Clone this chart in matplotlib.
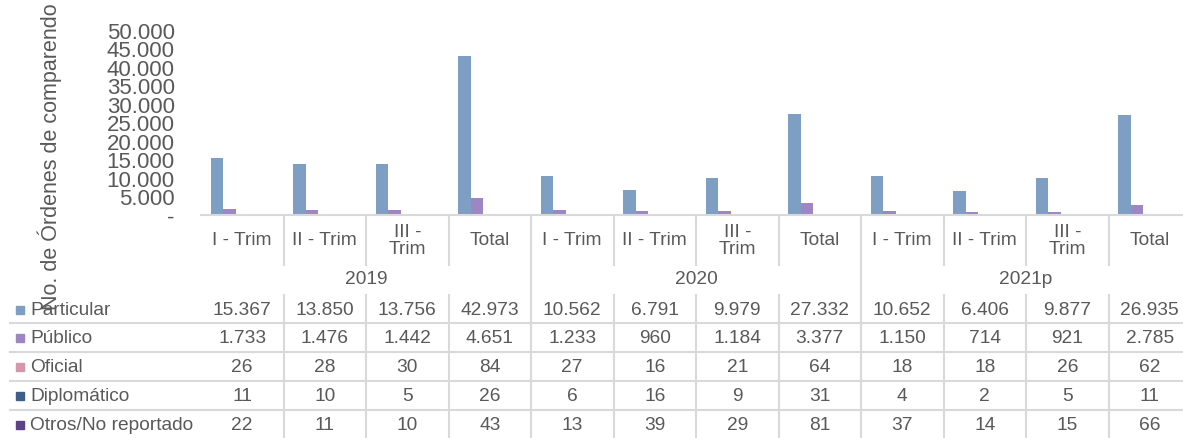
import matplotlib
matplotlib.use("Agg")
import matplotlib.pyplot as plt
from matplotlib.transforms import blended_transform_factory
from matplotlib.patches import Rectangle

# data
periods = ["I - Trim", "II - Trim", "III -\nTrim", "Total"] * 3
years = ["2019", "2020", "2021p"]
series = ["Particular", "Público", "Oficial", "Diplomático", "Otros/No reportado"]
particular = [15367, 13850, 13756, 42973, 10562, 6791, 9979, 27332, 10652, 6406, 9877, 26935]
publico = [1733, 1476, 1442, 4651, 1233, 960, 1184, 3377, 1150, 714, 921, 2785]
oficial = [26, 28, 30, 84, 27, 16, 21, 64, 18, 18, 26, 62]
diplomatico = [11, 10, 5, 26, 6, 16, 9, 31, 4, 2, 5, 11]
otros = [22, 11, 10, 43, 13, 39, 29, 81, 37, 14, 15, 66]
values = [particular, publico, oficial, diplomatico, otros]
colors = ["#7F9EC4", "#9E86C5", "#D597AC", "#3F5F8A", "#5D4189"]

plt.rcParams['font.family'] = ['Liberation Sans', 'DejaVu Sans']
txt = "#595959"
grid = "#D9D9D9"
W, H = 1183, 439


def fmt(v):
    return "-" if v == 0 else f"{v:,.0f}".replace(",", ".")


fig = plt.figure(figsize=(W / 100, H / 100), dpi=100)
# plot area in pixel terms: x 201..1191, y 31..216 (from top)
ax = fig.add_axes([201 / W, 1 - 216 / H, 990 / W, 185 / H])
over = fig.add_axes([0, 0, 1, 1], zorder=-1)
over.set_xlim(0, W)
over.set_ylim(H, 0)
over.axis("off")

n = len(periods)
width = 0.758 / len(series)
for j, (vals, c) in enumerate(zip(values, colors)):
    xs = [i + (j - 2) * width for i in range(n)]
    ax.bar(xs, vals, width=width, color=c, align="center")

ax.set_xlim(-0.5, n - 0.5)
ax.set_ylim(0, 50000)
ax.set_yticks(range(0, 50001, 5000))
ax.set_yticklabels([fmt(v) for v in range(0, 50001, 5000)], fontsize=16, color=txt)
ax.tick_params(axis="y", length=0, pad=19)
ax.set_xticks([])
for s in ["top", "right", "left"]:
    ax.spines[s].set_visible(False)
ax.spines["bottom"].set_color(grid)
ax.spines["bottom"].set_linewidth(1.5)

fig.text(50 / W, 1 - 157 / H, "No. de Órdenes de comparendo", rotation=90,
         ha="center", va="center", fontsize=15.5, color=txt)

# data table under the chart
tr = blended_transform_factory(ax.transData, over.transData)
fs = 13.8
for i, p in enumerate(periods):
    over.text(i, 241, p, transform=tr, ha="center", va="center", fontsize=fs,
              color=txt, linespacing=1.05)
for g, y in enumerate(years):
    over.text(4 * g + 1.5, 280, y, transform=tr, ha="center", va="center",
              fontsize=fs, color=txt)

# vertical separators
for b in range(n):
    xb = b + 0.5
    over.plot([xb, xb], [217, 266], transform=tr, color=grid, lw=1.5)
    over.plot([xb, xb], [296, H], transform=tr, color=grid, lw=1.5)
    if b % 4 == 3:
        over.plot([xb, xb], [266, 296], transform=tr, color=grid, lw=1.5)

row_y = [311, 339, 368, 397, 426]
for yl in [324, 353, 382, 411]:
    over.plot([10, W], [yl, yl], color=grid, lw=1.5)

for r, (name, vals, c) in enumerate(zip(series, values, colors)):
    y = row_y[r]
    over.add_patch(Rectangle((16, y - 4), 8, 8, color=c))
    over.text(30, y, name, ha="left", va="center", fontsize=fs, color=txt)
    for i, v in enumerate(vals):
        over.text(i, y, fmt(v), transform=tr, ha="center", va="center",
                  fontsize=fs, color=txt)

fig.savefig("out.png", dpi=100)
